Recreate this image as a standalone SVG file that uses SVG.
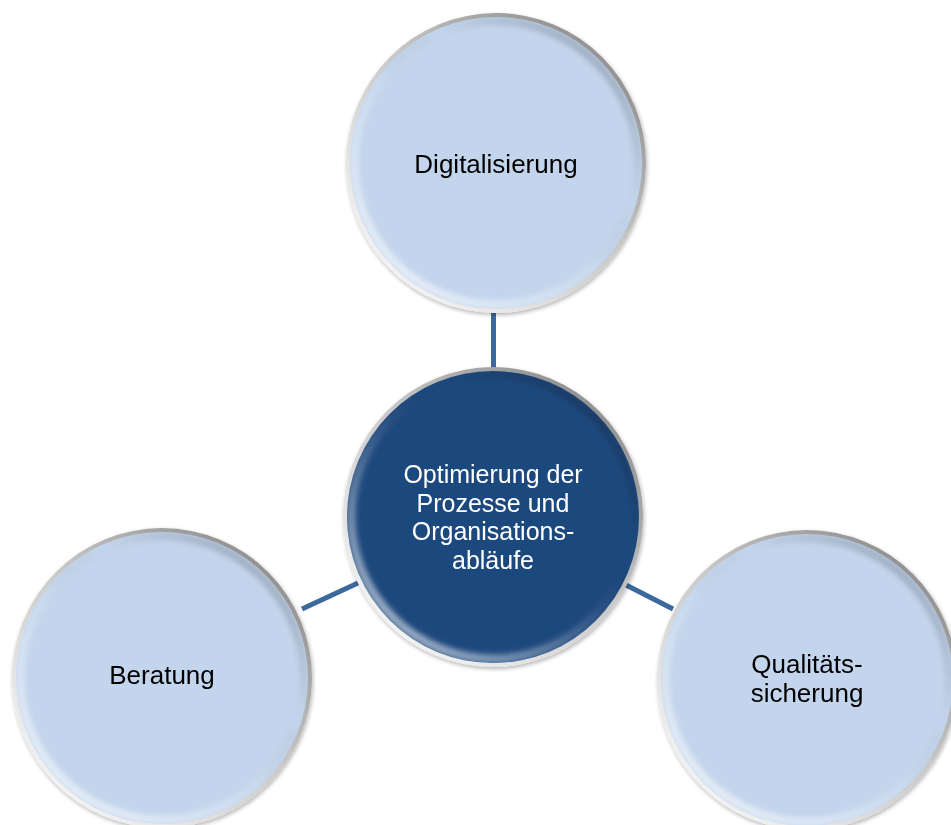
<svg xmlns="http://www.w3.org/2000/svg" width="951" height="825" viewBox="0 0 951 825">
<defs>
<linearGradient id="rim" x1="0.85" y1="0.1" x2="0.15" y2="0.9">
<stop offset="0" stop-color="#8f8f8f"/>
<stop offset="0.45" stop-color="#c8c8c8"/>
<stop offset="1" stop-color="#f4f4f4"/>
</linearGradient>
<linearGradient id="ring" x1="0.15" y1="0.9" x2="0.85" y2="0.1">
<stop offset="0" stop-color="#ffffff" stop-opacity="0.55"/>
<stop offset="0.45" stop-color="#ffffff" stop-opacity="0.1"/>
<stop offset="0.7" stop-color="#000000" stop-opacity="0"/>
<stop offset="1" stop-color="#000000" stop-opacity="0.18"/>
</linearGradient>
<filter id="blur" x="-10%" y="-10%" width="120%" height="120%">
<feGaussianBlur stdDeviation="2.5"/>
</filter>
<filter id="sh" x="-10%" y="-10%" width="120%" height="120%">
<feGaussianBlur in="SourceAlpha" stdDeviation="2"/>
<feOffset dx="1" dy="2" result="b"/>
<feComponentTransfer><feFuncA type="linear" slope="0.3"/></feComponentTransfer>
<feMerge><feMergeNode/><feMergeNode in="SourceGraphic"/></feMerge>
</filter>
<clipPath id="c1"><circle cx="496" cy="163" r="146"/></clipPath>
<clipPath id="c2"><circle cx="493" cy="517" r="146"/></clipPath>
<clipPath id="c3"><circle cx="162" cy="678" r="146"/></clipPath>
<clipPath id="c4"><circle cx="807" cy="680" r="146"/></clipPath>
</defs>
<style>
.conn{stroke:#3c699d;stroke-width:5;fill:none}
.rim{fill:url(#rim)}
.light{fill:#c3d5ec}
.dark{fill:#1f497d}
.ring{fill:none;stroke:url(#ring);stroke-width:9}
.t{font-family:"Liberation Sans",Arial,sans-serif;font-size:26px;text-anchor:middle}
.tc{font-size:25px}
.tl{fill:#000000}
.td{fill:#ffffff}
</style>
<g id="connectors">
<line class="conn" x1="493.5" y1="313" x2="493.5" y2="369"/>
<line class="conn" x1="302" y1="609" x2="358" y2="583"/>
<line class="conn" x1="626" y1="585" x2="673" y2="609"/>
</g>
<g id="node-digitalisierung" filter="url(#sh)">
<circle class="rim" cx="496" cy="163" r="150"/>
<circle class="light" cx="496" cy="163" r="146"/>
<g clip-path="url(#c1)"><circle class="ring" cx="496" cy="163" r="142" filter="url(#blur)"/></g>
<text class="t tl" x="496" y="173">Digitalisierung</text>
</g>
<g id="node-optimierung" filter="url(#sh)">
<circle class="rim" cx="493" cy="517" r="150"/>
<circle class="dark" cx="493" cy="517" r="146"/>
<g clip-path="url(#c2)"><circle class="ring" cx="493" cy="517" r="142" filter="url(#blur)"/></g>
<text class="t tc td" x="493" y="483">Optimierung der</text>
<text class="t tc td" x="493" y="511.5">Prozesse und</text>
<text class="t tc td" x="493" y="540">Organisations-</text>
<text class="t tc td" x="493" y="568.5">abläufe</text>
</g>
<g id="node-beratung" filter="url(#sh)">
<circle class="rim" cx="162" cy="678" r="150"/>
<circle class="light" cx="162" cy="678" r="146"/>
<g clip-path="url(#c3)"><circle class="ring" cx="162" cy="678" r="142" filter="url(#blur)"/></g>
<text class="t tl" x="162" y="684">Beratung</text>
</g>
<g id="node-qualitaetssicherung" filter="url(#sh)">
<circle class="rim" cx="807" cy="680" r="150"/>
<circle class="light" cx="807" cy="680" r="146"/>
<g clip-path="url(#c4)"><circle class="ring" cx="807" cy="680" r="142" filter="url(#blur)"/></g>
<text class="t tl" x="807" y="673">Qualitäts-</text>
<text class="t tl" x="807" y="702">sicherung</text>
</g>
</svg>
